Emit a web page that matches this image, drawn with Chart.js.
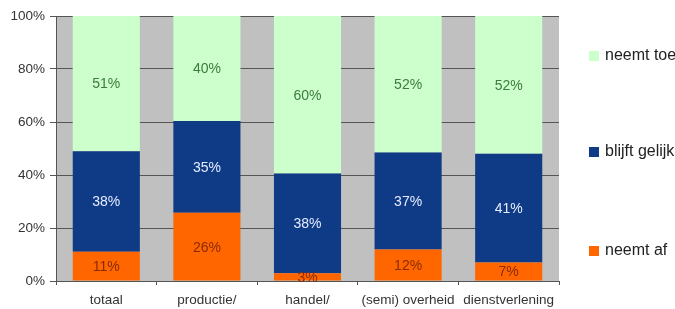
<!DOCTYPE html>
<html>
<head>
<meta charset="utf-8">
<script src="https://cdn.jsdelivr.net/npm/chart.js@4/dist/chart.umd.min.js"></script>
<style>
html,body{margin:0;padding:0;background:#fff;}
#wrap{position:relative;width:675px;height:309px;}
</style>
</head>
<body>
<div id="wrap"><canvas id="c" width="675" height="309"></canvas></div>
<script>
const categories = ['totaal', 'productie/', 'handel/', '(semi) overheid', 'dienstverlening'];
const neemtAf = [11, 26, 3, 12, 7];
const blijftGelijk = [38, 35, 38, 37, 41];
const neemtToe = [51, 40, 60, 52, 52];
const yTicks = [0, 20, 40, 60, 80, 100];

const totals = categories.map((_, i) => neemtAf[i] + blijftGelijk[i] + neemtToe[i]);
const pct = arr => arr.map((v, i) => v / totals[i] * 100);

const series = [
  {label: 'neemt af', raw: neemtAf, color: '#ff6600', text: '#8a2a00'},
  {label: 'blijft gelijk', raw: blijftGelijk, color: '#0f3a86', text: '#e6ecff'},
  {label: 'neemt toe', raw: neemtToe, color: '#ccffcc', text: '#3d7a3d'}
];

const FONT = '"Liberation Sans", Arial, sans-serif';

const bgPlugin = {
  id: 'bg',
  beforeDraw(chart) {
    const {ctx, chartArea: a} = chart;
    ctx.save();
    ctx.fillStyle = '#c0c0c0';
    ctx.fillRect(a.left, a.top, a.right - a.left, a.bottom - a.top);
    ctx.restore();
  }
};

const labelPlugin = {
  id: 'lbl',
  afterDatasetsDraw(chart) {
    const ctx = chart.ctx;
    ctx.save();
    ctx.font = '14px ' + FONT;
    ctx.textAlign = 'center';
    ctx.textBaseline = 'middle';
    chart.data.datasets.forEach((ds, di) => {
      const meta = chart.getDatasetMeta(di);
      meta.data.forEach((bar, i) => {
        const y = (bar.y + bar.base) / 2;
        ctx.fillStyle = series[di].text;
        ctx.fillText(series[di].raw[i] + '%', bar.x, y + 1);
      });
    });
    ctx.restore();
  }
};

const legendPlugin = {
  id: 'leg',
  afterDraw(chart) {
    const ctx = chart.ctx;
    const a = chart.chartArea;
    ctx.save();
    ctx.font = '16px ' + FONT;
    ctx.textBaseline = 'middle';
    ctx.textAlign = 'left';
    const order = [2, 1, 0];
    const ys = [56, 152, 251];
    order.forEach((di, k) => {
      const s = series[di];
      const y = ys[k];
      ctx.fillStyle = s.color;
      ctx.fillRect(a.right + 30, y - 5, 10, 10);
      ctx.fillStyle = '#222';
      ctx.fillText(s.label, a.right + 46, y);
    });
    ctx.restore();
  }
};

new Chart(document.getElementById('c'), {
  type: 'bar',
  data: {
    labels: categories,
    datasets: series.map(s => ({
      label: s.label,
      data: pct(s.raw),
      backgroundColor: s.color,
      borderWidth: 0,
      categoryPercentage: 1,
      barPercentage: 0.667
    }))
  },
  options: {
    responsive: false,
    animation: false,
    layout: {padding: {left: 0, right: 116, top: 16, bottom: 0}},
    plugins: {legend: {display: false}, tooltip: {enabled: false}},
    scales: {
      x: {
        stacked: true,
        offset: true,
        grid: {display: true, drawOnChartArea: false, drawTicks: true, tickLength: 4, offset: true, color: '#555'},
        border: {color: '#555', width: 1},
        ticks: {color: '#333', font: {size: 13.5, family: FONT}, padding: 7, maxRotation: 0, autoSkip: false},
        afterFit(s) { s.height = 28; }
      },
      y: {
        stacked: true,
        min: 0,
        max: 100,
        afterBuildTicks(s) { s.ticks = yTicks.map(v => ({value: v})); },
        grid: {color: '#555', lineWidth: 1, tickLength: 6, drawTicks: true},
        border: {color: '#555', width: 1},
        ticks: {color: '#333', font: {size: 13.5, family: FONT}, padding: 5, callback: v => v + '%'},
        afterFit(s) { s.width = 56; }
      }
    }
  },
  plugins: [bgPlugin, labelPlugin, legendPlugin]
});
</script>
</body>
</html>
